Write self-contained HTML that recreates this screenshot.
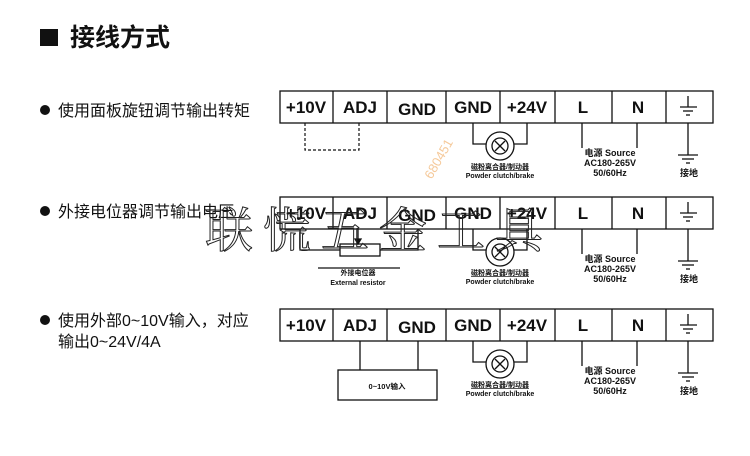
<!DOCTYPE html>
<html><head><meta charset="utf-8"><style>
body{margin:0;background:#fff;width:750px;height:456px;overflow:hidden}
svg{display:block}
.t{font-family:"Liberation Sans","Noto Sans CJK SC",sans-serif}
</style></head><body>
<svg width="750" height="456" viewBox="0 0 750 456" xmlns="http://www.w3.org/2000/svg" class="t">
<defs>
<g id="row" stroke="#111" fill="none" stroke-width="1.3">
  <rect x="280" y="0" width="433" height="32"/>
  <line x1="333" y1="0" x2="333" y2="32"/><line x1="387" y1="0" x2="387" y2="32"/>
  <line x1="446" y1="0" x2="446" y2="32"/><line x1="500" y1="0" x2="500" y2="32"/>
  <line x1="555" y1="0" x2="555" y2="32"/><line x1="612" y1="0" x2="612" y2="32"/>
  <line x1="666" y1="0" x2="666" y2="32"/>
  <g font-weight="bold" font-size="17" fill="#111" stroke="none" text-anchor="middle">
    <text x="306" y="22">+10V</text><text x="360" y="22">ADJ</text>
    <text x="417" y="24">GND</text><text x="473" y="22">GND</text>
    <text x="527" y="22">+24V</text><text x="583" y="22">L</text><text x="638" y="22">N</text>
  </g>
  <line x1="688" y1="5" x2="688" y2="16"/><line x1="680" y1="16" x2="697" y2="16"/>
  <line x1="683" y1="20" x2="693" y2="20"/><line x1="686" y1="24" x2="690" y2="24"/>
  <polyline points="473,32 473,53 486,53"/><polyline points="527,32 527,53 514,53"/>
  <circle cx="500" cy="55" r="14"/><circle cx="500" cy="55" r="8"/>
  <line x1="495" y1="50" x2="505" y2="60"/><line x1="505" y1="50" x2="495" y2="60"/>
  <g fill="#111" stroke="none" font-weight="bold" font-size="7" text-anchor="middle">
    <text x="500" y="78" text-decoration="underline">磁粉离合器/制动器</text>
    <text x="500" y="87">Powder clutch/brake</text>
  </g>
  <line x1="582" y1="32" x2="582" y2="57"/><line x1="637" y1="32" x2="637" y2="57"/>
  <g fill="#111" stroke="none" font-weight="bold" font-size="9" text-anchor="middle">
    <text x="610" y="65">电源 Source</text><text x="610" y="75">AC180-265V</text><text x="610" y="85">50/60Hz</text>
  </g>
  <line x1="688" y1="32" x2="688" y2="64"/><line x1="678" y1="64" x2="698" y2="64"/>
  <line x1="682" y1="68" x2="694" y2="68"/><line x1="686" y1="72" x2="690" y2="72"/>
  <text x="689" y="85" fill="#111" stroke="none" font-weight="bold" font-size="9" text-anchor="middle">接地</text>
</g>
</defs>

<rect x="40" y="29" width="18" height="17" fill="#111"/>
<text x="70" y="46" font-size="25" font-weight="bold" fill="#111">接线方式</text>

<g font-size="16" fill="#111">
<circle cx="45" cy="110" r="5" fill="#111"/><text x="58" y="116">使用面板旋钮调节输出转矩</text>
<circle cx="45" cy="211" r="5" fill="#111"/><text x="58" y="217">外接电位器调节输出电压</text>
<circle cx="45" cy="320" r="5" fill="#111"/><text x="58" y="326">使用外部0~10V输入，对应</text>
<text x="58" y="347">输出0~24V/4A</text>
</g>

<use href="#row" y="91"/>
<use href="#row" y="197"/>
<use href="#row" y="309"/>

<polyline points="305,123 305,150 359,150 359,123" fill="none" stroke="#111" stroke-width="1.2" stroke-dasharray="3,2"/>

<g stroke="#111" fill="none" stroke-width="1.3">
<polyline points="300,229 300,250 340,250"/><polyline points="418,229 418,250 380,250"/>
<rect x="340" y="244" width="40" height="12"/>
<line x1="358" y1="229" x2="358" y2="244"/>
<polygon points="355,239 361,239 358,244" fill="#111"/>
<line x1="318" y1="268" x2="400" y2="268"/>
</g>
<g fill="#111" font-weight="bold" font-size="7" text-anchor="middle">
<text x="358" y="275">外接电位器</text><text x="358" y="285">External resistor</text>
</g>

<g stroke="#111" fill="none" stroke-width="1.3">
<line x1="360" y1="341" x2="360" y2="370"/><line x1="418" y1="341" x2="418" y2="370"/>
<rect x="338" y="370" width="99" height="30"/>
</g>
<text x="387" y="389" fill="#111" font-weight="bold" font-size="7.5" text-anchor="middle">0~10V输入</text>

<text x="205" y="247" font-family="'Liberation Serif','Noto Serif CJK SC',serif" font-size="48" fill="none" stroke="#222" stroke-width="1" letter-spacing="10">联慌五金工具</text>
<text x="400" y="175" font-size="13" fill="#f5c99a" transform="rotate(-60 420 150)">680451</text>
</svg>
</body></html>
